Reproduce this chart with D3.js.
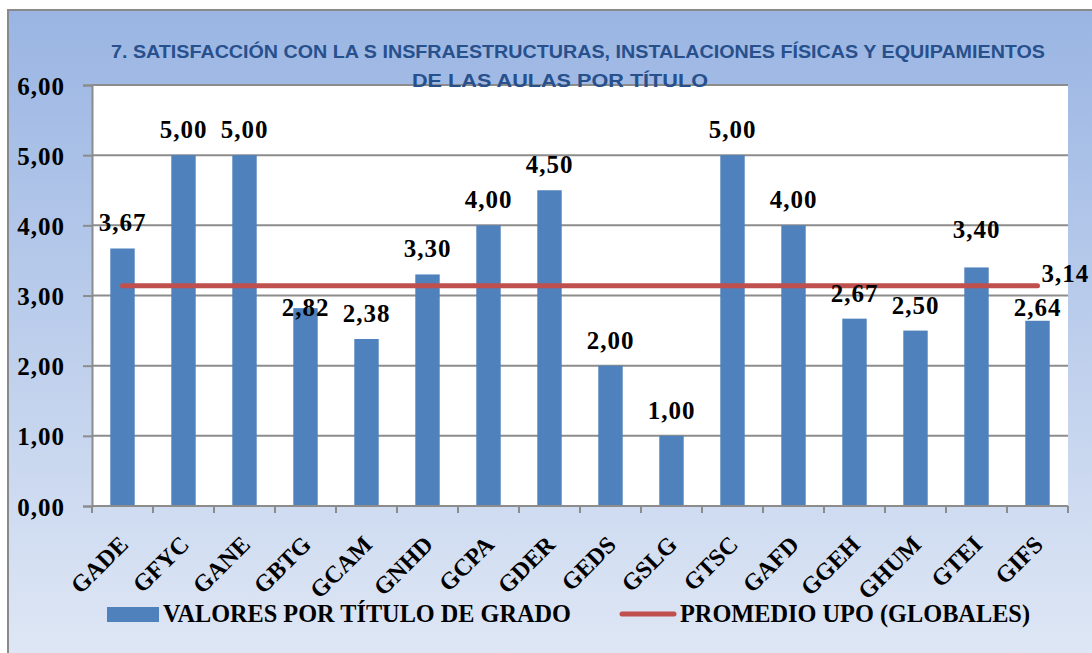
<!DOCTYPE html>
<html><head><meta charset="utf-8">
<script src="https://cdn.jsdelivr.net/npm/d3@7"></script>
<style>
html,body{margin:0;padding:0;background:#fff;}
svg{display:block;}
</style></head>
<body>
<svg id="c" width="1092" height="653"></svg>
<script>
// ---- data ----
const categories = ["GADE","GFYC","GANE","GBTG","GCAM","GNHD","GCPA","GDER","GEDS","GSLG","GTSC","GAFD","GGEH","GHUM","GTEI","GIFS"];
const values = [3.67,5.00,5.00,2.82,2.38,3.30,4.00,4.50,2.00,1.00,5.00,4.00,2.67,2.50,3.40,2.64];
const average = 3.14;
const yTicks = [0,1,2,3,4,5,6];
const titleLines = ["7. SATISFACCIÓN CON LA S INSFRAESTRUCTURAS, INSTALACIONES FÍSICAS Y EQUIPAMIENTOS","DE LAS AULAS POR TÍTULO"];
const legendLabels = ["VALORES POR TÍTULO DE GRADO","PROMEDIO UPO (GLOBALES)"];
// label nudges (px) for labels moved off the average line in the original
const labelNudge = [0,0,0,25,0,0,0,0,0,0,0,0,0,0,-12,12];

// ---- layout ----
const W=1092,H=653;
const plot={left:92,right:1068,top:85,bottom:506};
const svg=d3.select("#c");
const fmt=v=>d3.format(".2f")(v).replace(".",",");
const serif="'Liberation Serif','Times New Roman',serif";

const defs=svg.append("defs");
const g1=defs.append("linearGradient").attr("id","bg").attr("x1",0).attr("y1",0).attr("x2",0).attr("y2",1);
g1.append("stop").attr("offset","0%").attr("stop-color","#9ab5e3");
g1.append("stop").attr("offset","100%").attr("stop-color","#e0e8f5");

svg.append("rect").attr("width",W).attr("height",H).attr("fill","#fff");
svg.append("rect").attr("x",8).attr("y",10).attr("width",W+10).attr("height",H+10)
  .attr("fill","url(#bg)").attr("stroke","#8a8a8a").attr("stroke-width",2);

// plot area
svg.append("rect").attr("x",plot.left).attr("y",plot.top)
  .attr("width",plot.right-plot.left).attr("height",plot.bottom-plot.top).attr("fill","#fff");

const x=d3.scaleBand().domain(categories).range([plot.left,plot.right]).paddingInner(0.6).paddingOuter(0.3);
const y=d3.scaleLinear().domain([0,6]).range([plot.bottom,plot.top]);

// gridlines
svg.append("g").selectAll("line").data(yTicks.filter(t=>t>0)).join("line")
  .attr("x1",plot.left).attr("x2",plot.right).attr("y1",d=>y(d)).attr("y2",d=>y(d))
  .attr("stroke","#8c8c8c").attr("stroke-width",2);

// bars
svg.append("g").selectAll("rect").data(values).join("rect")
  .attr("x",(d,i)=>x(categories[i])).attr("width",x.bandwidth())
  .attr("y",d=>y(d)).attr("height",d=>y(0)-y(d)).attr("fill","#4f81bd");

// y axis
const yAxis=d3.axisLeft(y).tickValues(yTicks).tickFormat(fmt).tickSize(9).tickPadding(18);
const ya=svg.append("g").attr("transform",`translate(${plot.left},0)`).call(yAxis);
ya.select(".domain").attr("stroke","#8c8c8c").attr("stroke-width",2);
ya.selectAll(".tick line").attr("stroke","#8c8c8c").attr("stroke-width",2);
ya.selectAll(".tick text").attr("font-family",serif).attr("font-weight","bold")
  .attr("font-size",25).attr("letter-spacing",1).attr("fill","#000").attr("dy","0.36em");

// x axis
const step=x.step();
const xa=svg.append("g").attr("transform",`translate(0,${plot.bottom})`);
xa.append("line").attr("x1",plot.left).attr("x2",plot.right).attr("stroke","#8c8c8c").attr("stroke-width",2);
const bounds=d3.range(categories.length+1).map(i=>x.range()[0]+i*step);
xa.selectAll("line.tk").data(bounds).join("line").attr("class","tk")
  .attr("x1",d=>d).attr("x2",d=>d).attr("y1",0).attr("y2",7).attr("stroke","#8c8c8c").attr("stroke-width",2);
xa.selectAll("text").data(categories).join("text")
  .attr("transform",d=>`translate(${x(d)+x.bandwidth()/2+7},40) rotate(-45)`)
  .attr("text-anchor","end").attr("font-family",serif).attr("font-weight","bold")
  .attr("font-size",24).attr("fill","#000").text(d=>d);

// average line
const cx0=x(categories[0])+x.bandwidth()/2, cx1=x(categories[categories.length-1])+x.bandwidth()/2;
svg.append("line").attr("x1",cx0).attr("x2",cx1).attr("y1",y(average)).attr("y2",y(average))
  .attr("stroke","#c0504d").attr("stroke-width",5).attr("stroke-linecap","round");
svg.append("text").attr("x",cx1+4).attr("y",y(average)-4)
  .attr("font-family",serif).attr("font-weight","bold").attr("font-size",25).attr("letter-spacing",1)
  .text(fmt(average));

// value labels
svg.append("g").selectAll("text").data(values).join("text")
  .attr("x",(d,i)=>x(categories[i])+x.bandwidth()/2)
  .attr("y",(d,i)=>y(d)-17+labelNudge[i])
  .attr("text-anchor","middle").attr("font-family",serif).attr("font-weight","bold")
  .attr("font-size",25).attr("letter-spacing",1).attr("fill","#000").text(fmt);

// title
const tf="'Liberation Sans','Arial',sans-serif";
svg.append("text").attr("x",111).attr("y",58).attr("textLength",934).attr("lengthAdjust","spacingAndGlyphs")
  .attr("font-family",tf).attr("font-weight","bold").attr("font-size",19).attr("fill","#27508c").text(titleLines[0]);
svg.append("text").attr("x",412).attr("y",87).attr("textLength",296).attr("lengthAdjust","spacingAndGlyphs")
  .attr("font-family",tf).attr("font-weight","bold").attr("font-size",19).attr("fill","#27508c").text(titleLines[1]);

// legend
svg.append("rect").attr("x",107).attr("y",607).attr("width",52).attr("height",15).attr("fill","#4f81bd");
svg.append("text").attr("x",163).attr("y",622).attr("textLength",408).attr("lengthAdjust","spacingAndGlyphs")
  .attr("font-family",serif).attr("font-weight","bold").attr("font-size",26).text(legendLabels[0]);
svg.append("line").attr("x1",622).attr("x2",674).attr("y1",614).attr("y2",614)
  .attr("stroke","#c0504d").attr("stroke-width",5).attr("stroke-linecap","round");
svg.append("text").attr("x",680).attr("y",622).attr("textLength",350).attr("lengthAdjust","spacingAndGlyphs")
  .attr("font-family",serif).attr("font-weight","bold").attr("font-size",26).text(legendLabels[1]);
</script>
</body></html>
